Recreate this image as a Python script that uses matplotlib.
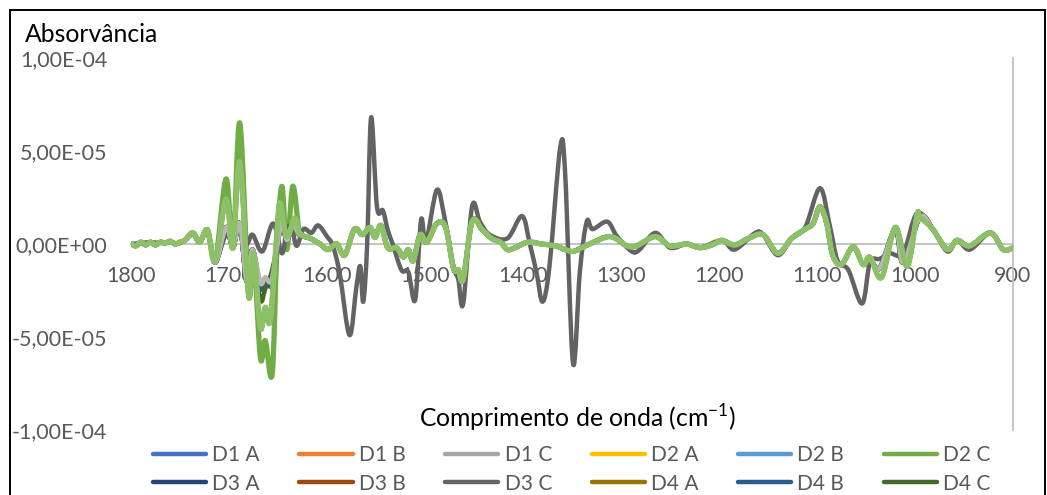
import numpy as np
import matplotlib
matplotlib.use("Agg")
import matplotlib.pyplot as plt
from matplotlib.path import Path
from matplotlib.patches import PathPatch, Rectangle
from matplotlib.lines import Line2D
from matplotlib.ticker import FixedLocator, FuncFormatter

plt.rcParams["font.family"] = ["Lato", "DejaVu Sans"]
plt.rcParams["mathtext.fontset"] = "custom"
plt.rcParams["mathtext.rm"] = "Lato"

SCALE = 1e-5  # absorbance values below are given in units of 1E-05

# Shared second-derivative profile followed by most samples
WN_BASE = [1800, 1795, 1790, 1785, 1780, 1775, 1770, 1765, 1760, 1755, 1750, 1745,
           1737, 1730, 1722, 1714, 1703, 1696, 1689, 1682, 1676, 1668, 1663, 1657,
           1651, 1646, 1641, 1635, 1628, 1617, 1607, 1599, 1590, 1582, 1572, 1564,
           1556, 1551, 1545, 1538, 1529, 1522, 1517, 1512, 1505, 1498, 1488, 1479,
           1471, 1466, 1461, 1452, 1442, 1432, 1423, 1416, 1408, 1395, 1381, 1367,
           1357, 1349, 1340, 1332, 1311, 1294, 1284, 1265, 1250, 1233, 1219, 1205,
           1197, 1184, 1170, 1155, 1140, 1126, 1112, 1104, 1097, 1090, 1084, 1075,
           1063, 1053, 1046, 1036, 1020, 1012, 995, 982, 967, 957, 944, 923, 910, 900]
ABS_BASE = [0.0, -0.1, 0.1, -0.05, 0.1, -0.05, 0.1, 0.05, 0.15, 0.0, 0.1, 0.2,
            0.6, 0.1, 0.75, -1.0, 0.9, -0.2, 1.1, -2.0, -0.3, -2.4, -1.9, -2.2,
            -0.2, 1.2, 0.2, 1.0, 0.5, 0.3, 0.0, -0.3, 0.0, -0.6, 0.8, 0.5,
            0.9, 0.35, 1.0, -0.2, -0.2, -0.7, -0.3, -0.9, 0.5, 0.1, 1.1, 0.9,
            -1.3, -1.4, -1.9, 1.2, 0.8, 0.3, 0.1, -0.3, -0.2, 0.1, 0.0, -0.1,
            -0.3, -0.4, -0.2, 0.0, 0.4, -0.1, -0.1, 0.4, -0.1, 0.0, -0.2, 0.0,
            0.2, -0.05, 0.3, 0.5, -0.5, 0.3, 0.8, 1.1, 2.0, 1.1, -0.6, -1.1,
            -0.15, -1.1, -0.8, -1.3, 0.8, -1.0, 1.45, 0.8, -0.3, 0.2, -0.1, 0.6, -0.3, -0.2]

# D3 C: full profile
WN_D3C = [1800, 1790, 1780, 1770, 1760, 1750, 1737, 1730, 1722, 1714, 1703, 1696,
          1689, 1682, 1676, 1666, 1655, 1646, 1641, 1636, 1631, 1624, 1616, 1609,
          1600, 1594, 1587, 1577, 1570, 1566, 1563, 1559, 1555, 1549, 1543, 1538,
          1533, 1524, 1517, 1510, 1504, 1499, 1488, 1480, 1471, 1466, 1461, 1452,
          1444, 1434, 1416, 1401, 1393, 1386, 1380, 1373, 1362, 1357, 1349, 1342,
          1335, 1329, 1314, 1304, 1289, 1281, 1265, 1250, 1233, 1219, 1197, 1184,
          1163, 1155, 1140, 1126, 1112, 1097, 1087, 1079, 1068, 1054, 1046, 1036,
          1026, 1012, 998, 982, 967, 957, 944, 923, 910, 900]
ABS_D3C = [0.0, 0.05, 0.1, 0.05, 0.1, 0.05, 0.5, 0.1, 0.6, -0.9, 0.5, 0.0,
           0.9, 0.0, 0.5, -0.4, 1.1, -0.5, 0.8, 0.9, -0.1, 0.8, 0.6, 1.0,
           0.4, -0.1, -1.6, -4.9, -2.3, -1.2, -3.1, 0.0, 6.8, 2.0, 1.8, 0.75,
           0.0, -1.4, -1.5, -3.0, 1.3, 0.1, 2.9, 1.4, -1.2, -1.9, -3.2, 2.0,
           1.2, 0.5, 0.3, 1.5, 0.0, -1.6, -3.1, -1.2, 5.2, 3.8, -6.4, -1.5,
           1.2, 0.8, 1.2, 0.4, -0.4, -0.3, 0.6, -0.2, 0.0, -0.2, 0.2, -0.3,
           0.6, 0.5, -0.6, 0.3, 0.9, 3.0, 1.0, -0.9, -1.4, -3.2, -1.0, -0.8,
           -0.5, -0.5, 1.65, 0.8, -0.4, 0.2, -0.3, 0.6, -0.3, -0.2]

# Bands where individual samples depart from the shared profile
WN_D2C_BAND = [1714, 1703, 1696, 1689, 1680, 1675, 1668, 1663, 1656, 1651, 1646, 1641, 1635, 1629]
ABS_D2C_BAND = [-0.9, 3.5, -0.2, 6.5, -2.6, -0.5, -6.1, -5.2, -7.0, -0.2, 3.1, -0.3, 3.1, 0.8]

WN_D4C_BAND = [1668, 1663, 1657]
ABS_D4C_BAND = [-3.0, -2.4, -1.6]

WN_GRAY_BAND = [1668, 1663, 1657]
ABS_GRAY_BAND = [-2.1, -1.8, -2.0]

WN_D6_BAND_A = [1714, 1703, 1696, 1689, 1680, 1675, 1668, 1663, 1658, 1651, 1648, 1641, 1633, 1628]
ABS_D6_BAND_A = [-0.9, 2.4, -0.2, 4.4, -2.8, -0.5, -4.5, -3.4, -4.1, 0.75, 2.2, 0.4, 1.4, 0.6]
WN_D6_BAND_B = [1046, 1034, 1020, 1008, 998]
ABS_D6_BAND_B = [-0.7, -1.8, 0.9, -1.2, 1.55]

SERIES = ["D1 A", "D1 B", "D1 C", "D2 A", "D2 B", "D2 C",
          "D3 A", "D3 B", "D3 C", "D4 A", "D4 B", "D4 C",
          "D5 A", "D5 B", "D5 C", "D6 A", "D6 B", "D6 C"]
COLORS = ["#4472C4", "#ED7D31", "#A5A5A5", "#FFC000", "#5B9BD5", "#70AD47",
          "#264478", "#9E480E", "#636363", "#997300", "#255E91", "#43682B",
          "#698ED0", "#F1975A", "#B7B7B7", "#FFCD33", "#7CAFDD", "#8CC168"]
N_LEGEND = 12
LEGEND_COLS = 6

X_TICKS = [1800, 1700, 1600, 1500, 1400, 1300, 1200, 1100, 1000, 900]
Y_TICKS = [-1e-4, -5e-5, 0.0, 5e-5, 1e-4]
Y_TICK_LABELS = ["-1,00E-04", "-5,00E-05", "0,00E+00", "5,00E-05", "1,00E-04"]


def splice(wn, vals, bands):
    """Replace the shared profile by sample-specific points inside each band."""
    wn = list(wn)
    vals = list(vals)
    for bw, bv in bands:
        lo, hi = min(bw), max(bw)
        keep = [(w, v) for w, v in zip(wn, vals) if not (lo <= w <= hi)]
        keep += list(zip(bw, bv))
        keep.sort(key=lambda p: -p[0])
        wn = [p[0] for p in keep]
        vals = [p[1] for p in keep]
    return wn, vals


def smooth_path(x, y):
    """Smoothed line through the points (cubic Bezier, Catmull-Rom tangents)."""
    pts = np.column_stack([x, y]).astype(float)
    n = len(pts)
    verts = [pts[0]]
    codes = [Path.MOVETO]
    for i in range(n - 1):
        p0 = pts[max(i - 1, 0)]
        p1 = pts[i]
        p2 = pts[i + 1]
        p3 = pts[min(i + 2, n - 1)]
        c1 = p1 + (p2 - p0) / 6.0
        c2 = p2 - (p3 - p1) / 6.0
        verts += [c1, c2, p2]
        codes += [Path.CURVE4] * 3
    return Path(verts, codes)


profiles = {name: (WN_BASE, ABS_BASE) for name in SERIES}
d6_profile = splice(WN_BASE, ABS_BASE, [(WN_D6_BAND_A, ABS_D6_BAND_A),
                                        (WN_D6_BAND_B, ABS_D6_BAND_B)])
for name in ("D5 A", "D5 B", "D6 A", "D6 B", "D6 C"):
    profiles[name] = d6_profile
profiles["D3 C"] = (WN_D3C, ABS_D3C)
profiles["D2 C"] = splice(WN_BASE, ABS_BASE, [(WN_D2C_BAND, ABS_D2C_BAND)])
profiles["D4 C"] = splice(WN_BASE, ABS_BASE, [(WN_D4C_BAND, ABS_D4C_BAND)])
profiles["D1 C"] = splice(WN_BASE, ABS_BASE, [(WN_GRAY_BAND, ABS_GRAY_BAND)])
profiles["D5 C"] = splice(WN_BASE, ABS_BASE, [(WN_GRAY_BAND, ABS_GRAY_BAND)])

W, H = 1047, 495
fig = plt.figure(figsize=(W / 100, H / 100), dpi=100)
ax = fig.add_axes([131 / W, 1 - 430 / H, (1013 - 131) / W, (430 - 58) / H])
ax.set_xlim(1800, 900)
ax.set_ylim(-1e-4, 1e-4)

LW_MAIN = 3.2
widths = {"D2 C": 3.8, "D6 C": 3.8}
for i, (name, color) in enumerate(zip(SERIES, COLORS)):
    wn, vals = profiles[name]
    path = smooth_path(wn, np.asarray(vals) * SCALE)
    patch = PathPatch(path, fill=False, edgecolor=color,
                      linewidth=widths.get(name, LW_MAIN), capstyle="round",
                      joinstyle="round", zorder=3 + i * 0.01)
    ax.add_patch(patch)

# axes styling
for side in ("top", "left"):
    ax.spines[side].set_visible(False)
ax.spines["bottom"].set_position(("data", 0))
ax.spines["bottom"].set_color("#BFBFBF")
ax.spines["bottom"].set_linewidth(1.3)
ax.spines["right"].set_color("#BFBFBF")
ax.spines["right"].set_linewidth(1.3)

ax.xaxis.set_major_locator(FixedLocator(X_TICKS))
ax.xaxis.set_major_formatter(FuncFormatter(lambda v, p: f"{int(round(v))}"))
ax.yaxis.set_major_locator(FixedLocator(Y_TICKS))
ax.set_yticklabels(Y_TICK_LABELS)
ax.tick_params(axis="both", length=0, labelsize=15.5, labelcolor="#595959")
ax.tick_params(axis="x", pad=16)
ax.tick_params(axis="y", pad=17)

fig.text(25 / W, 1 - 35 / H, "Absorvância", fontsize=17.8, color="black",
         ha="left", va="center")
fig.text(578 / W, 1 - 418 / H, "Comprimento de onda (cm$^{-1}$)", fontsize=17.8,
         color="black", ha="center", va="center")

# legend laid out row by row (six entries per row)
rows = N_LEGEND // LEGEND_COLS
order = [r * LEGEND_COLS + c for c in range(LEGEND_COLS) for r in range(rows)]
handles = [Line2D([], [], color=COLORS[k], lw=3.2, solid_capstyle="round") for k in order]
labels = [SERIES[k] for k in order]
leg = fig.legend(handles, labels, ncol=LEGEND_COLS, loc="upper left",
                 bbox_to_anchor=(153 / W, 1 - 445 / H), frameon=False,
                 fontsize=15, labelcolor="#595959", handlelength=2.55,
                 handletextpad=0.3, columnspacing=1.9, labelspacing=0.42,
                 borderaxespad=0, borderpad=0)

fig.add_artist(Rectangle((10 / W, -0.2), (1045 - 10) / W, 1 - 10 / H + 0.2,
                         transform=fig.transFigure, fill=False,
                         edgecolor="black", linewidth=1.4))

fig.savefig("out.png", dpi=100)
